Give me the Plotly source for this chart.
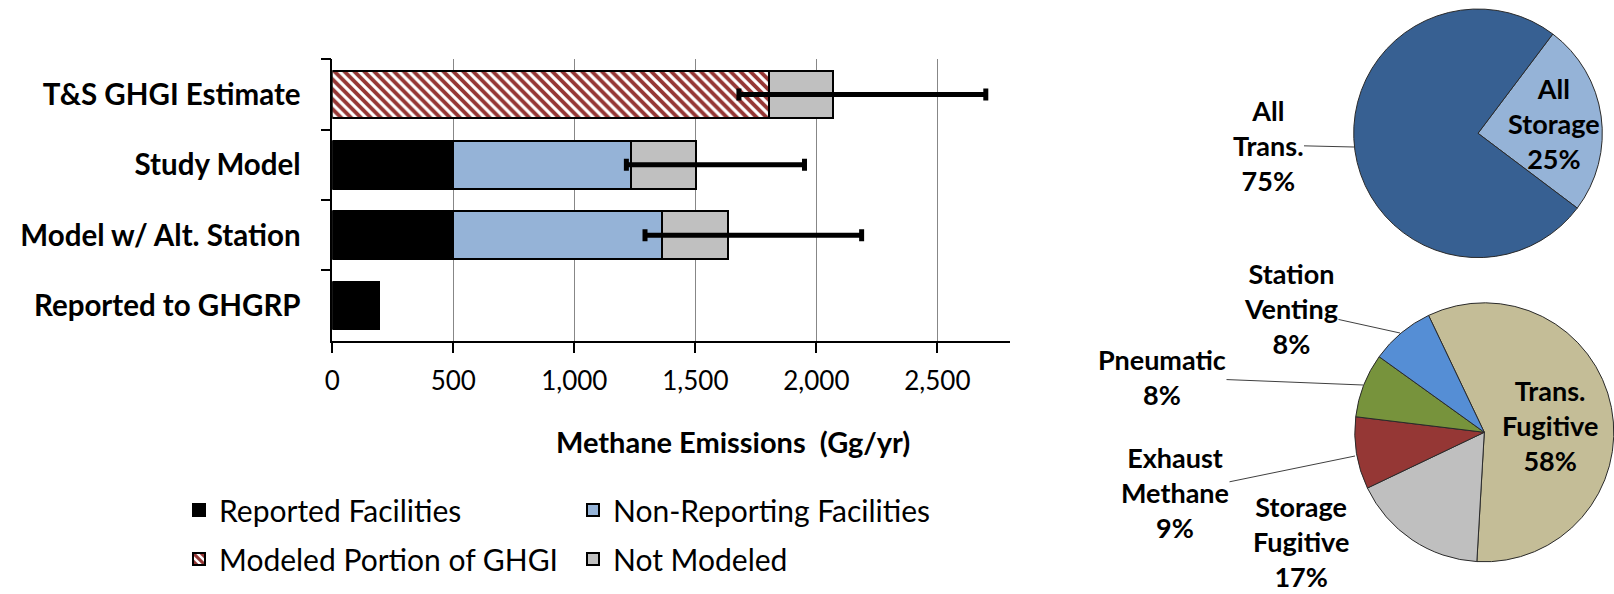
import plotly.graph_objects as go

# ---------------- data ----------------
categories = ["T&S GHGI Estimate", "Study Model", "Model w/ Alt. Station", "Reported to GHGRP"]
reported = [None, 500, 500, 194]
modeled_ghgi = [1805, None, None, None]
non_reporting = [None, 736, 863, None]
not_modeled = [265, 266, 271, None]
err_low = [1680, 1215, 1292]
err_high = [2700, 1951, 2187]
x_ticks = [0, 500, 1000, 1500, 2000, 2500]
x_tick_text = ["0", "500", "1,000", "1,500", "2,000", "2,500"]

top_labels = ["All Storage", "All Trans."]
top_values = [25, 75]
top_colors = ["#95B3D7", "#376092"]

bottom_labels = ["Trans. Fugitive", "Storage Fugitive", "Exhaust Methane", "Pneumatic", "Station Venting"]
bottom_values = [58, 17, 9, 8, 8]
bottom_colors = ["#C4BD97", "#BFBFBF", "#953735", "#77933C", "#558ED5"]

W, H = 1614, 594
FONT = "Lato"

def px(x):
    return x / W

def py(y):
    return 1 - y / H

fig = go.Figure()

fig.add_trace(go.Bar(name="Reported Facilities", y=categories, x=reported, orientation="h",
                     marker=dict(color="#000000", line=dict(color="#000000", width=2)),
                     legend="legend"))
fig.add_trace(go.Bar(name="Modeled Portion of GHGI", y=categories, x=modeled_ghgi, orientation="h",
                     marker=dict(color="#FFFFFF", line=dict(color="#000000", width=2),
                                 pattern=dict(shape="\\", fgcolor="#953735", bgcolor="#FFFFFF",
                                              size=7, solidity=0.55, fillmode="replace")),
                     legend="legend2"))
fig.add_trace(go.Bar(name="Non-Reporting Facilities", y=categories, x=non_reporting, orientation="h",
                     marker=dict(color="#95B3D7", line=dict(color="#000000", width=2)),
                     legend="legend"))
fig.add_trace(go.Bar(name="Not Modeled", y=categories, x=not_modeled, orientation="h",
                     marker=dict(color="#C0C0C0", line=dict(color="#000000", width=2)),
                     legend="legend2"))

# error bars centred on the bar totals
series = [reported, modeled_ghgi, non_reporting, not_modeled]
totals = [sum(s[i] for s in series if s[i] is not None) for i in range(len(categories))]
n_err = len(err_low)
err_tot = totals[:n_err]
fig.add_trace(go.Scatter(
    y=categories[:n_err], x=err_tot, mode="markers",
    marker=dict(size=1, color="rgba(0,0,0,0)"), showlegend=False, hoverinfo="skip",
    error_x=dict(type="data", symmetric=False,
                 array=[h - t for h, t in zip(err_high, err_tot)],
                 arrayminus=[t - l for l, t in zip(err_low, err_tot)],
                 color="#000000", thickness=5, width=6)))

# pies
fig.add_trace(go.Pie(labels=top_labels, values=top_values, sort=False, direction="clockwise",
                     rotation=37, marker=dict(colors=top_colors, line=dict(color="#2a2a2a", width=1)),
                     textinfo="none", showlegend=False, hoverinfo="label+percent",
                     domain=dict(x=[px(1478 - 124.3), px(1478 + 124.3)],
                                 y=[py(133.3 + 124.3), py(133.3 - 124.3)])))
fig.add_trace(go.Pie(labels=bottom_labels, values=bottom_values, sort=False, direction="clockwise",
                     rotation=334.5, marker=dict(colors=bottom_colors, line=dict(color="#2a2a2a", width=1)),
                     textinfo="none", showlegend=False, hoverinfo="label+percent",
                     domain=dict(x=[px(1484.3 - 129.5), px(1484.3 + 129.5)],
                                 y=[py(432.3 + 129.5), py(432.3 - 129.5)])))

# pie labels: text anchor point, vertical anchor and leader-line end (pixels)
label_pos = {
    "All Trans.": ((1268, 145), "middle", (1354, 147)),
    "All Storage": ((1554, 124), "middle", None),
    "Station Venting": ((1291, 309), "middle", (1400, 333)),
    "Pneumatic": ((1162, 377), "middle", (1363, 385)),
    "Exhaust Methane": ((1175, 493), "middle", (1355, 456)),
    "Storage Fugitive": ((1301, 594), "bottom", None),
    "Trans. Fugitive": ((1550, 425), "middle", None),
}
annotations = []
for labs, vals in ((top_labels, top_values), (bottom_labels, bottom_values)):
    total = sum(vals)
    for lab, v in zip(labs, vals):
        (tx, ty), yanc, head = label_pos[lab]
        text = "<br>".join(lab.split(" ")) + "<br>%d%%" % round(100 * v / total)
        a = dict(text=text, xref="paper", yref="paper", font=dict(family=FONT, size=27, color="#000000",
                 weight="bold"), align="center", xanchor="center", yanchor=yanc, borderpad=0)
        if head is None:
            a.update(x=px(tx), y=py(ty), showarrow=False)
        else:
            a.update(x=px(head[0]), y=py(head[1]), ax=tx - head[0], ay=ty - head[1],
                     showarrow=True, arrowhead=0, arrowwidth=1, arrowcolor="#404040", standoff=0)
        annotations.append(a)

annotations.append(dict(text="Methane Emissions  (Gg/yr)", xref="paper", yref="paper",
                        x=px(733), y=py(441), showarrow=False, xanchor="center", yanchor="middle",
                        font=dict(family=FONT, size=29, color="#000000", weight="bold")))

legend_common = dict(orientation="h", xanchor="left", yanchor="middle", bgcolor="rgba(0,0,0,0)",
                     font=dict(family=FONT, size=30, color="#000000"), entrywidth=349,
                     entrywidthmode="pixels", traceorder="normal", itemclick=False, itemdoubleclick=False)

fig.update_layout(
    width=W, height=H, margin=dict(l=0, r=0, t=0, b=0, autoexpand=False),
    paper_bgcolor="white", plot_bgcolor="white",
    font=dict(family=FONT, color="#000000"),
    barmode="stack", bargap=0.32,
    showlegend=True,
    legend=dict(x=px(179), y=py(510), **legend_common),
    legend2=dict(x=px(179), y=py(559), **legend_common),
    xaxis=dict(domain=[px(332.3), px(1010)], range=[0, 2800], tickvals=x_ticks, ticktext=x_tick_text,
               automargin=False,
               showgrid=True, gridcolor="#878787", gridwidth=1, zeroline=False,
               showline=True, linecolor="#000000", linewidth=2,
               ticks="outside", ticklen=10, tickcolor="#000000", tickwidth=1.5,
               tickfont=dict(family=FONT, size=26, color="#000000"), ticklabelstandoff=6),
    yaxis=dict(domain=[py(340.7), py(59.3)], autorange="reversed", type="category",
               automargin=False,
               showgrid=False, zeroline=False, showline=True, linecolor="#000000", linewidth=1.5,
               ticks="outside", ticklen=10, tickcolor="#000000", tickwidth=1.5, tickson="boundaries",
               tickfont=dict(family=FONT, size=29.5, color="#000000", weight="bold"), ticklabelstandoff=24),
    annotations=annotations,
)

fig.write_html("out.html")
